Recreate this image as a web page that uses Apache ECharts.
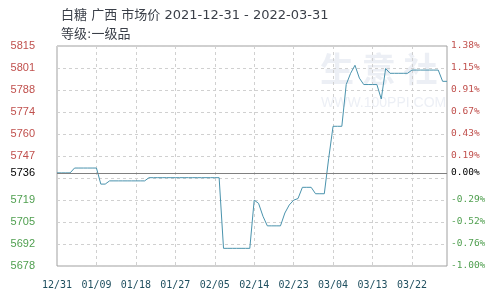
<!DOCTYPE html>
<html><head><meta charset="utf-8">
<script src="https://cdn.jsdelivr.net/npm/echarts@6/dist/echarts.min.js"></script>
<style>html,body{margin:0;padding:0;background:#fff}#c{width:498px;height:303px}</style>
</head><body><div id="c"></div>
<script>
// Categories: every day from 2021-12-31 to 2022-03-30
var startDate = new Date(2021, 11, 31);
var dayCount = 90;
var dates = [];
for (var i = 0; i < dayCount; i++) {
  var d = new Date(startDate.getTime() + i * 86400000);
  dates.push(('0' + (d.getMonth() + 1)).slice(-2) + '/' + ('0' + d.getDate()).slice(-2));
}
// Price values (yuan/ton), one per day
var prices = [
  5736, 5736, 5736, 5736, 5739, 5739, 5739, 5739, 5739, 5739,   // 12/31 - 01/09
  5729, 5729, 5731, 5731, 5731, 5731, 5731, 5731, 5731, 5731,   // 01/10 - 01/19
  5731, 5733, 5733, 5733, 5733, 5733, 5733, 5733, 5733, 5733,   // 01/20 - 01/29
  5733, 5733, 5733, 5733, 5733, 5733, 5733, 5733, 5689, 5689,   // 01/30 - 02/08
  5689, 5689, 5689, 5689, 5689, 5719, 5717, 5709, 5703, 5703,   // 02/09 - 02/18
  5703, 5703, 5711, 5716, 5719, 5720, 5727, 5727, 5727, 5723,   // 02/19 - 02/28
  5723, 5723, 5745, 5765, 5765, 5765, 5791, 5798, 5803, 5795,   // 03/01 - 03/10
  5791, 5791, 5791, 5791, 5782, 5801, 5798, 5798, 5798, 5798,   // 03/11 - 03/20
  5798, 5800, 5800, 5800, 5800, 5800, 5800, 5800, 5793, 5793    // 03/21 - 03/30
];
var basePrice = 5736;
var yMin = 5678, yMax = 5815, yStep = 13.7;
var leftLabels = ['5678', '5692', '5705', '5719', '', '5747', '5760', '5774', '5788', '5801', '5815'];
var rightLabels = ['-1.00%', '-0.76%', '-0.52%', '-0.29%', '', '0.19%', '0.43%', '0.67%', '0.91%', '1.15%', '1.38%'];
var titleText = '白糖 广西 市场价 2021-12-31 - 2022-03-31';
var subText = '等级:一级品';

var RED = '#c0504d', GREEN = '#4f9f4f';
function colorFor(idx) { return idx > 4 ? RED : (idx < 4 ? GREEN : '#000'); }

var chart = echarts.init(document.getElementById('c'), null, {renderer: 'canvas'});
chart.setOption({
  animation: false,
  backgroundColor: '#fff',
  title: [
    {text: titleText, left: 56, top: 4, textStyle: {fontSize: 13, fontWeight: 'normal', color: '#3a3f48', fontFamily: '"DejaVu Sans", "Noto Sans CJK SC"'}},
    {text: subText, left: 56, top: 23, textStyle: {fontSize: 13, fontWeight: 'normal', color: '#3a3f48', fontFamily: '"DejaVu Sans", "Noto Sans CJK SC"'}}
  ],
  grid: {left: 57, right: 51, top: 46, bottom: 37, show: true, borderColor: '#a0a0a0', borderWidth: 1, backgroundColor: 'transparent'},
  graphic: [
    {type: 'text', left: 320, top: 52, silent: true, z: 0, style: {text: '生 意 社', font: 'bold 34px "Noto Sans CJK SC"', fill: 'rgba(200,210,225,0.35)'}},
    {type: 'text', left: 321, top: 96, silent: true, z: 0, style: {text: 'WWW.100PPI.COM', font: '14px "Liberation Sans"', fill: 'rgba(200,210,225,0.35)'}}
  ],
  xAxis: {
    type: 'category', data: dates, boundaryGap: false,
    axisLine: {show: false}, axisTick: {show: false},
    axisLabel: {interval: 8, margin: 14, color: '#1f4f5f', fontSize: 10, fontFamily: 'DejaVu Sans Mono'},
    splitLine: {show: true, interval: 8, lineStyle: {color: '#d0d0d0', type: [3, 3]}}
  },
  yAxis: [
    {
      type: 'value', min: yMin, max: yMax, interval: yStep,
      axisLine: {show: false}, axisTick: {show: false},
      axisLabel: {margin: 22, fontSize: 11, fontFamily: 'Liberation Sans',
        formatter: function (v, i) { return leftLabels[i]; },
        color: function (v, i) { return colorFor(Math.round((v - yMin) / yStep)); }},
      splitLine: {show: true, lineStyle: {color: '#d0d0d0', type: [3, 3]}}
    },
    {
      type: 'value', min: yMin, max: yMax, interval: yStep, position: 'right',
      axisLine: {show: false}, axisTick: {show: false},
      axisLabel: {margin: 4, fontSize: 9.5, fontFamily: 'DejaVu Sans Mono',
        formatter: function (v, i) { return rightLabels[i]; },
        color: function (v, i) { return colorFor(Math.round((v - yMin) / yStep)); }},
      splitLine: {show: false}
    }
  ],
  series: [{
    type: 'line', data: prices, yAxisIndex: 0, symbol: 'none', smooth: false,
    lineStyle: {color: '#4a93ad', width: 1},
    z: 3,
    markLine: {
      silent: true, symbol: 'none', animation: false,
      lineStyle: {color: '#808080', type: 'solid', width: 1},
      data: [
        {yAxis: basePrice, label: {position: 'start', distance: 22, formatter: String(basePrice), color: '#000', fontSize: 11, fontFamily: 'Liberation Sans'}},
        {yAxis: basePrice, label: {position: 'end', distance: 4, formatter: '0.00%', color: '#000', fontSize: 9.5, fontFamily: 'DejaVu Sans Mono'}}
      ]
    }
  }]
});
</script></body></html>
